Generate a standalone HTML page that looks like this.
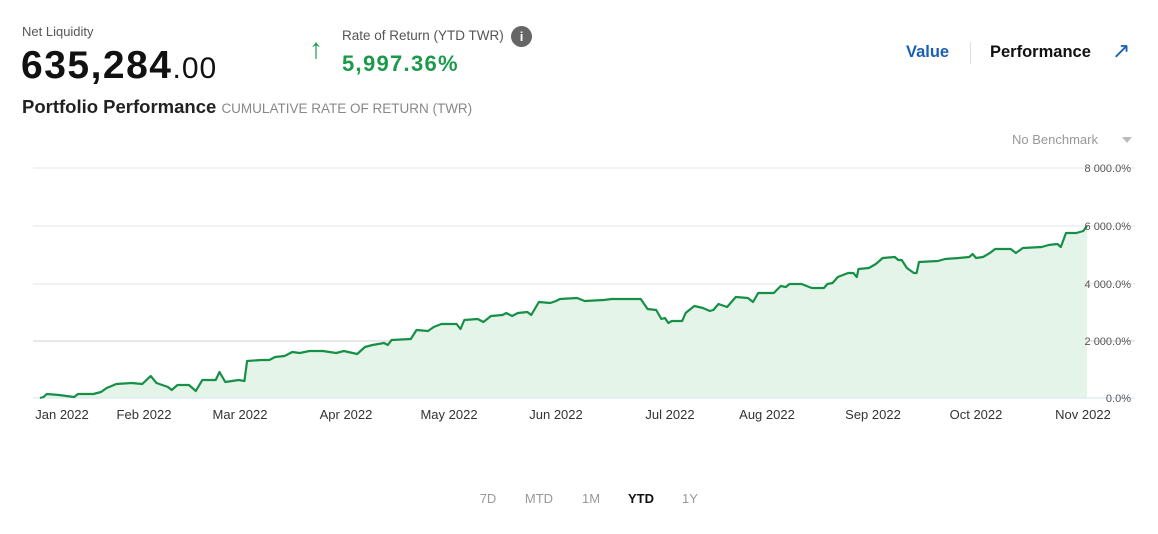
<!DOCTYPE html>
<html><head><meta charset="utf-8"><style>
body{margin:0;width:1158px;height:534px;background:#fff;font-family:"Liberation Sans",sans-serif;position:relative;overflow:hidden}
.a{position:absolute;white-space:nowrap}
</style></head><body>
<div class="a" style="left:22px;top:24px;font-size:13px;color:#555">Net Liquidity</div>
<div class="a" style="left:21px;top:44px;font-size:39px;font-weight:bold;color:#111;letter-spacing:1.5px">635,284<span style="font-size:30px;font-weight:normal;letter-spacing:1px">.00</span></div>
<div class="a" style="left:309px;top:33px;font-size:28px;color:#1a9a4a">↑</div>
<div class="a" style="left:342px;top:28px;font-size:13.5px;color:#555">Rate of Return (YTD TWR)</div>
<div class="a" style="left:511px;top:26px;width:21px;height:21px;border-radius:50%;background:#666;color:#fff;font-size:13px;font-weight:bold;text-align:center;line-height:21px">i</div>
<div class="a" style="left:342px;top:51px;font-size:22px;font-weight:bold;color:#1a9a4a;letter-spacing:1.3px">5,997.36%</div>
<div class="a" style="left:22px;top:96px;font-size:18.5px;font-weight:bold;color:#222">Portfolio Performance <span style="font-size:13.5px;font-weight:normal;color:#888">CUMULATIVE RATE OF RETURN (TWR)</span></div>
<div class="a" style="left:906px;top:43px;font-size:16.5px;font-weight:bold;color:#1a5fb4">Value</div>
<div class="a" style="left:970px;top:42px;width:1px;height:22px;background:#ddd"></div>
<div class="a" style="left:990px;top:43px;font-size:16.5px;font-weight:bold;color:#111">Performance</div>
<div class="a" style="left:1112px;top:38px;font-size:22px;color:#1a5fb4">↗</div>
<div class="a" style="left:1012px;top:132px;font-size:13px;color:#999">No Benchmark</div>
<div class="a" style="left:1122px;top:137px;width:0;height:0;border-left:5px solid transparent;border-right:5px solid transparent;border-top:6px solid #bbb"></div>
<svg class="a" style="left:0;top:0" width="1158" height="534">
<g stroke-width="1">
<line x1="33" x2="1135" y1="168" y2="168" stroke="#e6e6e6"/>
<line x1="33" x2="1135" y1="226" y2="226" stroke="#e6e6e6"/>
<line x1="33" x2="1135" y1="284" y2="284" stroke="#e6e6e6"/>
<line x1="33" x2="1135" y1="341" y2="341" stroke="#d0d0d0"/>
</g>
<polygon fill="#e4f4e9" points="40,398 43.6,397 46.7,394 59,395 74.2,397 78,394 93.4,394 101,392 106.7,388 116.3,384 131.6,383 142.3,384 150.7,376 156.5,383 168,387 171.7,390 177.5,385 189,385 195.8,391 202.3,380 215.7,380 219.5,372 225.3,382 238.7,380 244.4,381 247.1,361 261.6,360 269.3,360 275,357 284.6,356 292.2,352 299.9,353 309.4,351 322.8,351 336.2,353 343.8,351 357.2,354 364.9,347 372.5,345 384,343 387.8,345 391.6,340 410.8,339 416.5,330 428,331 433.7,327 441.3,324 456.6,324 460.5,329 464.3,320 477.7,319 483.4,322 491,316 502.5,315 506.3,313 512.1,316 517.8,313 527.4,312 531.2,315 538.9,302 550.3,303 556,301 559.9,299 577.1,298 584.7,301 603.9,300 611.5,299 623.4,299 640.7,299 647.6,309 656.2,310 661.4,319 664.9,318 668.3,323 671.8,321 682.2,321 685.6,313 694.3,306 702.9,308 709.8,311 713.3,310 718.5,304 727.1,307 735.8,297 747.9,298 753,302 758.2,293 773.8,293 780.7,286 785.9,287 789.4,284 801.5,284 806.6,286 811.8,288 823.9,288 827.4,284 832.6,283 837.8,277 848.1,273 853.3,273 856.8,277 858.5,269 868.9,268 875.8,264 882.7,258 894.8,257 898.3,260 901.7,260 906.9,268 913.8,273 916.6,273 919,262 938,261 945,259 958.8,258 969.2,257 972.6,254 976.1,258 983,257 989.9,253 995.1,249 1010.7,249 1015.9,253 1022.8,248 1041.8,247 1048.7,245 1057.4,244 1060.8,247 1066,233 1076.4,233 1083.3,231 1087,226 1087,398"/>
<line x1="33" x2="1135" y1="398" y2="398" stroke="#d6e4ee"/>
<polyline fill="none" stroke="#168f47" stroke-width="2.2" stroke-linejoin="round" points="40,398 43.6,397 46.7,394 59,395 74.2,397 78,394 93.4,394 101,392 106.7,388 116.3,384 131.6,383 142.3,384 150.7,376 156.5,383 168,387 171.7,390 177.5,385 189,385 195.8,391 202.3,380 215.7,380 219.5,372 225.3,382 238.7,380 244.4,381 247.1,361 261.6,360 269.3,360 275,357 284.6,356 292.2,352 299.9,353 309.4,351 322.8,351 336.2,353 343.8,351 357.2,354 364.9,347 372.5,345 384,343 387.8,345 391.6,340 410.8,339 416.5,330 428,331 433.7,327 441.3,324 456.6,324 460.5,329 464.3,320 477.7,319 483.4,322 491,316 502.5,315 506.3,313 512.1,316 517.8,313 527.4,312 531.2,315 538.9,302 550.3,303 556,301 559.9,299 577.1,298 584.7,301 603.9,300 611.5,299 623.4,299 640.7,299 647.6,309 656.2,310 661.4,319 664.9,318 668.3,323 671.8,321 682.2,321 685.6,313 694.3,306 702.9,308 709.8,311 713.3,310 718.5,304 727.1,307 735.8,297 747.9,298 753,302 758.2,293 773.8,293 780.7,286 785.9,287 789.4,284 801.5,284 806.6,286 811.8,288 823.9,288 827.4,284 832.6,283 837.8,277 848.1,273 853.3,273 856.8,277 858.5,269 868.9,268 875.8,264 882.7,258 894.8,257 898.3,260 901.7,260 906.9,268 913.8,273 916.6,273 919,262 938,261 945,259 958.8,258 969.2,257 972.6,254 976.1,258 983,257 989.9,253 995.1,249 1010.7,249 1015.9,253 1022.8,248 1041.8,247 1048.7,245 1057.4,244 1060.8,247 1066,233 1076.4,233 1083.3,231 1087,226"/>
<g font-family="Liberation Sans" font-size="11" fill="#555" text-anchor="end">
<text x="1131" y="172">8 000.0%</text>
<text x="1131" y="230">6 000.0%</text>
<text x="1131" y="288">4 000.0%</text>
<text x="1131" y="345">2 000.0%</text>
<text x="1131" y="402">0.0%</text>
</g>
<g font-family="Liberation Sans" font-size="13" fill="#333" text-anchor="middle">
<text x="62" y="419">Jan 2022</text>
<text x="144" y="419">Feb 2022</text>
<text x="240" y="419">Mar 2022</text>
<text x="346" y="419">Apr 2022</text>
<text x="449" y="419">May 2022</text>
<text x="556" y="419">Jun 2022</text>
<text x="670" y="419">Jul 2022</text>
<text x="767" y="419">Aug 2022</text>
<text x="873" y="419">Sep 2022</text>
<text x="976" y="419">Oct 2022</text>
<text x="1083" y="419">Nov 2022</text>
</g>
<g font-family="Liberation Sans" font-size="13" fill="#999" text-anchor="middle">
<text x="488" y="503">7D</text>
<text x="539" y="503">MTD</text>
<text x="591" y="503">1M</text>
<text x="641" y="503" fill="#111" font-weight="bold">YTD</text>
<text x="690" y="503">1Y</text>
</g>
</svg>
</body></html>
